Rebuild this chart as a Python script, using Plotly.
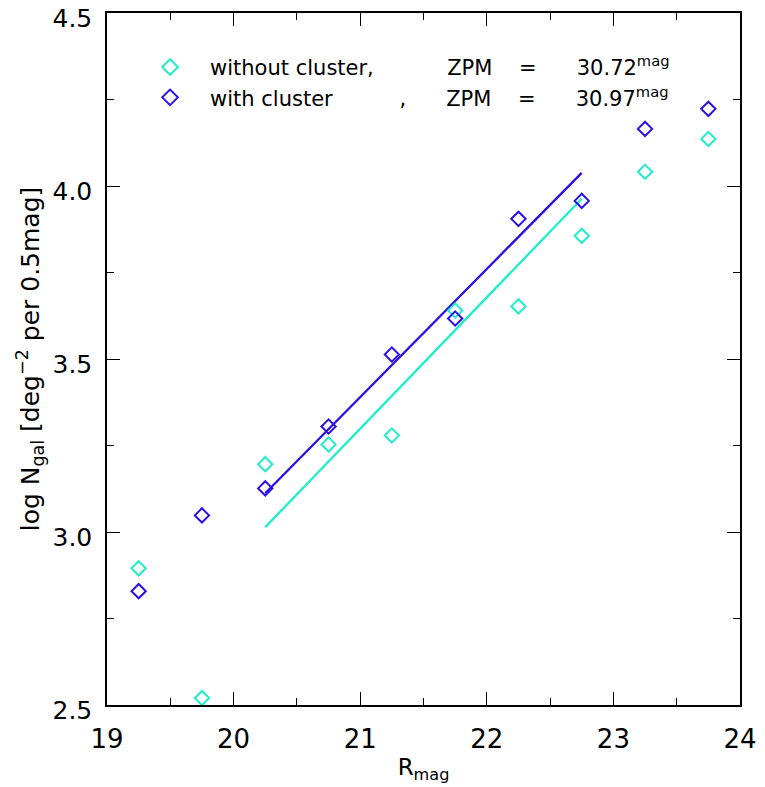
import plotly.graph_objects as go

r_mag = [19.25, 19.75, 20.25, 20.75, 21.25, 21.75, 22.25, 22.75, 23.25, 23.75]
logn_without = [2.895, 2.52, 3.196, 3.253, 3.279, 3.640, 3.652, 3.856, 4.041, 4.136]
logn_with = [2.829, 3.048, 3.126, 3.305, 3.513, 3.617, 3.905, 3.957, 4.165, 4.223]

fit_x = [20.25, 22.75]
fit_without = [3.014, 3.963]
fit_with = [3.112, 4.038]

CYAN = "#1EEFC8"
BLUE = "#2A10E8"
NB = "\u00a0"

name_without = (NB * 3 + "without cluster," + NB * 11 + "ZPM" + NB * 4 + "=" + NB * 6
                + "30.72<sup>mag</sup>")
name_with = (NB * 3 + "with cluster" + NB * 10 + "," + NB * 6 + "ZPM" + NB * 4 + "=" + NB * 6
             + "30.97<sup>mag</sup>")

fig = go.Figure()
fig.add_trace(go.Scatter(x=fit_x, y=fit_without, mode="lines",
                         line=dict(color=CYAN, width=2.3), showlegend=False))
fig.add_trace(go.Scatter(x=fit_x, y=fit_with, mode="lines",
                         line=dict(color=BLUE, width=2.3), showlegend=False))
fig.add_trace(go.Scatter(x=r_mag, y=logn_without, mode="markers", name=name_without,
                         marker=dict(symbol="diamond-open", size=11, color=CYAN,
                                     line=dict(width=2, color=CYAN))))
fig.add_trace(go.Scatter(x=r_mag, y=logn_with, mode="markers", name=name_with,
                         marker=dict(symbol="diamond-open", size=11, color=BLUE,
                                     line=dict(width=2, color=BLUE))))

fig.update_layout(
    width=765, height=787,
    margin=dict(l=107, r=25, t=13, b=82),
    paper_bgcolor="white", plot_bgcolor="white",
    font=dict(family="DejaVu Sans", size=22, color="black"),
    showlegend=True,
    legend=dict(x=0.068, y=0.951, xanchor="left", yanchor="top",
                bgcolor="rgba(0,0,0,0)", font=dict(family="DejaVu Sans", size=21),
                itemsizing="constant", tracegroupgap=0),
    xaxis=dict(range=[19, 24], dtick=1, tick0=19, showgrid=False, zeroline=False,
               automargin=False, ticklabeloverflow="allow",
               showline=True, linecolor="black", linewidth=1.5, mirror="ticks",
               ticks="inside", ticklen=13, tickcolor="black", tickwidth=1.2,
               ticklabelstandoff=10,
               minor=dict(dtick=0.5, ticks="inside", ticklen=7, tickcolor="black"),
               title=dict(text="R<sub>mag</sub>", font=dict(size=23), standoff=6),
               tickfont=dict(size=26)),
    yaxis=dict(range=[2.5, 4.5], dtick=0.5, tick0=2.5, tickformat=".1f",
               showgrid=False, zeroline=False, automargin=False,
               ticklabeloverflow="allow", ticklabelshift=5,
               showline=True, linecolor="black", linewidth=1.5, mirror="ticks",
               ticks="inside", ticklen=13, tickcolor="black", tickwidth=1.2,
               ticklabelstandoff=8,
               minor=dict(dtick=0.25, ticks="inside", ticklen=7, tickcolor="black"),
               title=dict(text="log N<sub>gal</sub> [deg<sup>\u22122</sup> per 0.5mag]",
                          font=dict(size=25), standoff=6),
               tickfont=dict(size=25)),
)

fig.write_html("out.html")
